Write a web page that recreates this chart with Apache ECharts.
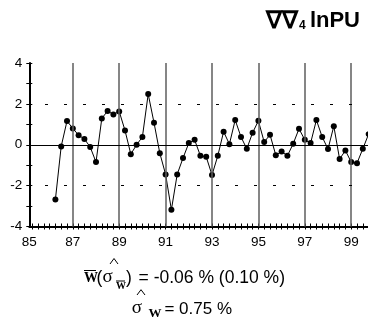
<!DOCTYPE html>
<html>
<head>
<meta charset="utf-8">
<script src="https://cdn.jsdelivr.net/npm/echarts@6/dist/echarts.min.js"></script>
<style>
  html, body { margin: 0; padding: 0; background: #fff; }
  #chart { width: 368px; height: 323px; }
</style>
</head>
<body>
<div id="chart"></div>
<script>
// Quarterly series: first observation and spacing (in years)
const FIRST_PERIOD = 86.25;
const PERIOD_STEP = 0.25;

// Quarterly values of the double-differenced log series (%)
const growth = [
  -2.68, -0.08, 1.16, 0.80, 0.47, 0.28, -0.11, -0.85,
  1.29, 1.65, 1.48, 1.63, 0.70, -0.46, 0.00, 0.38,
  2.48, 1.08, -0.41, -1.45, -3.18, -1.45, -0.65, 0.08,
  0.24, -0.54, -0.59, -1.48, -0.54, 0.64, 0.03, 1.21,
  0.38, -0.20, 0.59, 1.17, 0.13, 0.49, -0.51, -0.33,
  -0.54, 0.05, 0.78, 0.24, 0.08, 1.21, 0.38, -0.21,
  0.91, -0.70, -0.28, -0.85, -0.90, -0.20, 0.52
];

// Axis setup
const X_MIN = 85.125;
const X_MAX = 99.875;
const yearLabels = [85, 87, 89, 91, 93, 95, 97, 99];
const gridYears = [87, 89, 91, 93, 95, 97, 99];
const Y_MIN = -4, Y_MAX = 4;
const dashedLevels = [-2, 2];
const solidLevels = [0];

// Quarter tick marks along the time axis
const quarterTicks = [];
for (let q = 85.25; q <= X_MAX + 1e-9; q += 0.25) quarterTicks.push(q);

const points = growth.map((v, i) => [FIRST_PERIOD + i * PERIOD_STEP, v]);

const SANS = 'Liberation Sans, Arial, sans-serif';
const SERIF = 'Liberation Serif, Times New Roman, serif';

const chart = echarts.init(document.getElementById('chart'), null, { renderer: 'canvas' });

function txt(x, y, text, font, align) {
  return {
    type: 'text', x: x, y: y, z: 10,
    style: { text: text, font: font, fill: '#000', align: align || 'left', verticalAlign: 'middle' }
  };
}
function seg(x1, y1, x2, y2) {
  return { type: 'line', z: 10, shape: { x1: x1, y1: y1, x2: x2, y2: y2 },
           style: { stroke: '#000', lineWidth: 1 } };
}
function hat(cx, yTop, yBase) {
  return { type: 'polyline', z: 10,
           shape: { points: [[cx - 4, yBase], [cx, yTop], [cx + 4, yBase]] },
           style: { stroke: '#000', lineWidth: 1, fill: null } };
}

const option = {
  animation: false,
  backgroundColor: '#fff',
  grid: { left: 29.3, right: -3.5, top: 63, bottom: 96.5, outerBoundsMode: 'none' },
  xAxis: [
    {
      type: 'value', min: X_MIN, max: X_MAX,
      axisLine: { show: true, onZero: false, lineStyle: { color: '#000', width: 2 } },
      axisTick: { show: true, customValues: quarterTicks, length: 3, lineStyle: { color: '#000', width: 1 } },
      axisLabel: {
        customValues: yearLabels.map(y => Math.max(y, X_MIN)),
        formatter: v => String(Math.round(v)),
        color: '#000', fontFamily: SANS, fontSize: 13.5, margin: 9
      },
      splitLine: { show: false }
    },
    {
      type: 'value', min: X_MIN, max: X_MAX, position: 'bottom',
      axisLine: { show: false, onZero: false },
      axisTick: { show: true, inside: true, customValues: quarterTicks, length: 3, lineStyle: { color: '#000', width: 1 } },
      axisLabel: { show: false },
      splitLine: { show: false }
    }
  ],
  yAxis: [
    {
      type: 'value', min: Y_MIN, max: Y_MAX, interval: 1, position: 'left',
      axisLine: { show: true, onZero: false, lineStyle: { color: '#000', width: 2 } },
      axisTick: { show: true, length: 3, lineStyle: { color: '#000', width: 1 } },
      axisLabel: {
        formatter: v => (v % 2 === 0 ? String(v) : ''),
        color: '#000', fontFamily: SANS, fontSize: 13.5, margin: 7
      },
      splitLine: { show: false }
    },
    {
      type: 'value', min: Y_MIN, max: Y_MAX, interval: 1, position: 'left',
      axisLine: { show: false, onZero: false },
      axisTick: { show: true, inside: true, length: 3, lineStyle: { color: '#000', width: 1 } },
      axisLabel: { show: false },
      splitLine: { show: false }
    }
  ],
  series: [
    {
      // reference lines: year separators and level guides
      type: 'line', data: [], z: 1, silent: true,
      markLine: {
        silent: true, symbol: ['none', 'none'], label: { show: false }, animation: false,
        data: [].concat(
          gridYears.map(y => ({ xAxis: y, lineStyle: { color: '#5e5e5e', width: 1.5, type: 'solid' } })),
          dashedLevels.map(v => ({ yAxis: v, lineStyle: { color: '#000', width: 1, type: [3, 16], dashOffset: 3.3 } })),
          solidLevels.map(v => ({ yAxis: v, lineStyle: { color: '#000', width: 1, type: 'solid' } }))
        )
      }
    },
    {
      type: 'line', z: 3, data: points,
      symbol: 'circle', symbolSize: 6,
      itemStyle: { color: '#000' },
      lineStyle: { color: '#000', width: 1 }
    }
  ],
  graphic: [
    // title
    txt(297.5, 21, '∇∇', 'bold 24px ' + SANS, 'right'),
    txt(299, 25.5, '4', 'bold 12px ' + SANS, 'left'),
    txt(360, 21, 'lnPU', 'bold 22px ' + SANS, 'right'),

    // mean line
    txt(84, 278, 'W', 'bold 14px ' + SERIF),
    seg(84, 270.5, 96, 270.5),
    txt(96.5, 278.5, '(', '17.5px ' + SANS),
    txt(102.5, 277, 'σ', '19px ' + SERIF),
    hat(114, 258.5, 264),
    txt(116, 286.7, 'W', 'bold 10px ' + SERIF),
    seg(116, 281, 125, 281),
    txt(126, 278.5, ')', '17.5px ' + SANS),
    txt(285, 278.4, '= -0.06 % (0.10 %)', '17.5px ' + SANS, 'right'),

    // std line
    txt(131.7, 308.4, 'σ', '19px ' + SERIF),
    hat(141, 289.7, 295),
    txt(148.5, 313.7, 'W', 'bold 13px ' + SERIF),
    txt(232, 309.4, '= 0.75 %', '17px ' + SANS, 'right')
  ]
};

chart.setOption(option);
</script>
</body>
</html>
